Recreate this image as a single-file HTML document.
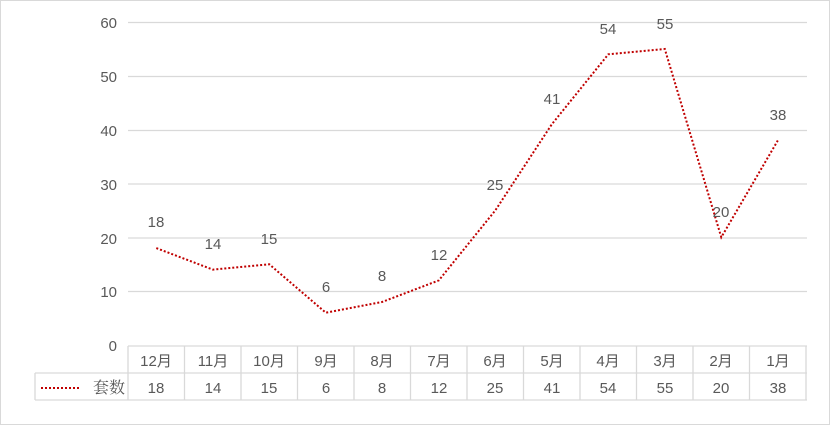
<!DOCTYPE html><html><head><meta charset="utf-8"><style>body{margin:0;background:#fff}</style></head><body>
<svg width="831" height="426" xmlns="http://www.w3.org/2000/svg" font-family="Liberation Sans, Noto Sans CJK SC, sans-serif" font-size="14" fill="#595959">
<rect x="0.5" y="0.5" width="829" height="424" fill="#fff" stroke="#d9d9d9"/>
<g stroke="#d9d9d9" stroke-width="1.3">
<line x1="128" x2="807" y1="22.5" y2="22.5"/><line x1="128" x2="807" y1="76.5" y2="76.5"/><line x1="128" x2="807" y1="130.5" y2="130.5"/><line x1="128" x2="807" y1="184" y2="184"/><line x1="128" x2="807" y1="238" y2="238"/><line x1="128" x2="807" y1="291.5" y2="291.5"/>
</g>
<g text-anchor="end" font-size="15"><text x="117" y="28">60</text><text x="117" y="82">50</text><text x="117" y="136">40</text><text x="117" y="190">30</text><text x="117" y="244">20</text><text x="117" y="297">10</text><text x="117" y="351">0</text></g>
<g fill="none" stroke="#d9d9d9" stroke-width="1.3">
<path d="M128 346H807M35 373H807M35 400H807M35 373V400M128 346V400M184.5 346V400M241 346V400M297.5 346V400M354 346V400M410.5 346V400M467 346V400M523.5 346V400M580 346V400M636.5 346V400M693 346V400M749.5 346V400M806 346V400"/>
</g>
<polyline fill="none" stroke="#c00000" stroke-width="2" stroke-dasharray="2,2" points="156.3,248.1 212.8,269.6 269.3,264.3 325.8,312.7 382.3,301.9 438.8,280.4 495.3,210.4 551.8,124.3 608.3,54.3 664.8,49 721.3,237.3 777.8,140.5"/>
<line x1="41" x2="80" y1="388" y2="388" stroke="#c00000" stroke-width="2" stroke-dasharray="2,2"/>
<g text-anchor="middle" font-size="15">
<text x="156" y="227">18</text><text x="213" y="249">14</text><text x="269" y="244">15</text><text x="326" y="292">6</text><text x="382" y="281">8</text><text x="439" y="260">12</text><text x="495" y="190">25</text><text x="552" y="104">41</text><text x="608" y="34">54</text><text x="665" y="29">55</text><text x="721" y="217">20</text><text x="778" y="120">38</text>
</g>
<g text-anchor="middle" font-size="15">
<text x="156" y="366">12月</text><text x="213" y="366">11月</text><text x="269" y="366">10月</text><text x="326" y="366">9月</text><text x="382" y="366">8月</text><text x="439" y="366">7月</text><text x="495" y="366">6月</text><text x="552" y="366">5月</text><text x="608" y="366">4月</text><text x="665" y="366">3月</text><text x="721" y="366">2月</text><text x="778" y="366">1月</text>
<text x="156" y="393">18</text><text x="213" y="393">14</text><text x="269" y="393">15</text><text x="326" y="393">6</text><text x="382" y="393">8</text><text x="439" y="393">12</text><text x="495" y="393">25</text><text x="552" y="393">41</text><text x="608" y="393">54</text><text x="665" y="393">55</text><text x="721" y="393">20</text><text x="778" y="393">38</text>
</g>
<text x="125" y="393" text-anchor="end" font-size="16" font-family="Liberation Serif, Noto Serif CJK SC, serif">套数</text>
</svg>
</body></html>
